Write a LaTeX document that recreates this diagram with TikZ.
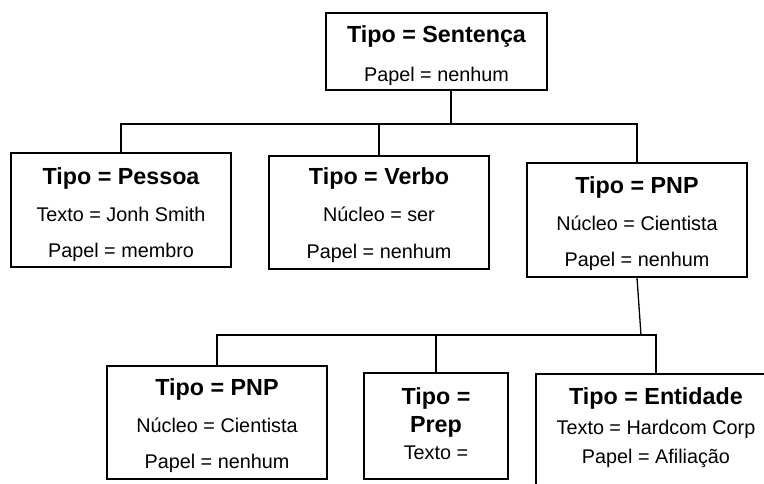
\documentclass[tikz,border=0pt]{standalone}
\usepackage{fontspec}
\setmainfont{Liberation Sans}
\usetikzlibrary{positioning}
\def\mtitlesize{23.3}
\def\mbodysize{19.8}
\def\mboxline{1.6pt}
\def\mlinkline{1.3pt}
\tikzset{
  caixa/.style={draw, line width=\mboxline, inner sep=0pt, minimum width=220pt, minimum height=114pt},
  texto/.style={align=center, inner sep=0pt, font=\fontsize{\mbodysize}{#1}\selectfont},
  texto/.default=36.5,
  ligacao/.style={line width=\mlinkline}
}
\newcommand\mtitulo[1]{{\bfseries\fontsize{\mtitlesize}{28}\selectfont #1}}

\begin{document}
\begin{tikzpicture}[x=1pt, y=-1pt]
		\useasboundingbox (0,0) rectangle (764,484);
		\clip (0,0) rectangle (764,484);
		% primeiro nivel
		\node[caixa, minimum width=221pt, minimum height=77pt] (sent) at (436.5,51.5) {};
		\node[texto=38.75, below=13.6pt of sent.north] (sent-txt) {\mtitulo{Tipo = Sentença}\\Papel = nenhum};
		\node[caixa] (pessoa) at (121,210) {};
		\node[texto=36.4, below=15.6pt of pessoa.north] (pessoa-txt) {\mtitulo{Tipo = Pessoa}\\Texto = Jonh Smith\\Papel = membro};
		\node[caixa, minimum height=113pt] (verbo) at (379,212.5) {};
		\node[texto=36.9, below=12.6pt of verbo.north] (verbo-txt) {\mtitulo{Tipo = Verbo}\\Núcleo = ser\\Papel = nenhum};
		\node[caixa] (pnp) at (637,220) {};
		\node[texto=36.5, below=14.6pt of pnp.north] (pnp-txt) {\mtitulo{Tipo = PNP}\\Núcleo = Cientista\\Papel = nenhum};
		% segundo nivel
		\node[caixa, minimum height=113pt] (pnp2) at (217,422.5) {};
		\node[texto=36.4, below=13.6pt of pnp2.north] (pnp2-txt) {\mtitulo{Tipo = PNP}\\Núcleo = Cientista\\Papel = nenhum};
		\node[caixa, minimum width=144pt, minimum height=106pt] (prep) at (436,426) {};
		\node[texto=27.5, below=15.6pt of prep.north] (prep-txt) {\mtitulo{Tipo =}\\\mtitulo{Prep}\\Texto =};
		\node[caixa, minimum width=240pt] (ent) at (656,431) {};
		\node[texto=29.4, below=14.6pt of ent.north] (ent-txt) {\mtitulo{Tipo = Entidade}\\Texto = Hardcom Corp\\Papel = Afiliação};
		% ligacoes
		\coordinate (j1) at (451,124);
		\coordinate (j2) at (641,335);
		\draw[ligacao] ([xshift=14.5pt]sent.south) -- (j1);
		\draw[ligacao] (pessoa.north) |- (j1) -| (pnp.north);
		\draw[ligacao] (verbo.north) -- (verbo.north |- j1);
		\draw[ligacao] (pnp.south) -- (j2);
		\draw[ligacao] (pnp2.north) |- (j2) -| (ent.north);
		\draw[ligacao] (prep.north) -- (prep.north |- j2);
	\end{tikzpicture}
\end{document}
